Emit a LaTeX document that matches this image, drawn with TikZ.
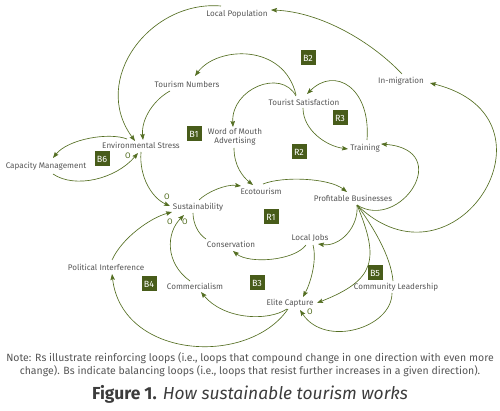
\documentclass[tikz,border=0pt]{standalone}
\usepackage{fontspec}
\setmainfont{Fira Sans}
\usetikzlibrary{arrows.meta}
\definecolor{lineg}{RGB}{84,110,34}
\definecolor{boxg}{RGB}{72,92,26}
\definecolor{txtg}{RGB}{85,85,85}
\definecolor{titleg}{RGB}{60,60,60}
\tikzset{
  lbl/.style={font=\fontsize{8.1}{9}\selectfont, text=txtg, inner sep=1pt},
  loopbox/.style={fill=boxg, text=white, font=\fontsize{9}{9}\selectfont, minimum width=15pt, minimum height=15pt, inner sep=0pt},
  pol/.style={text=lineg, font=\fontsize{8}{8}\selectfont, inner sep=0pt},
  arr/.style={draw=lineg, line width=0.65pt, -{Stealth[length=6pt,width=4.5pt,inset=1pt]}},
  plainline/.style={draw=lineg, line width=0.65pt},
}
\begin{document}
\begin{tikzpicture}[x=1pt,y=-1pt]
\useasboundingbox (0,0) rectangle (500,411);
% variables
\node[lbl] (lp) at (237,14) {Local Population};
\node[lbl] (tn) at (187,84) {Tourism Numbers};
\node[lbl] (ts) at (304,102) {Tourist Satisfaction};
\node[lbl] (im) at (401,81) {In-migration};
\node[lbl, align=center] (wom) at (235,137) {Word of Mouth\\Advertising};
\node[lbl] (es) at (141,145.5) {Environmental Stress};
\node[lbl] (cm) at (46,166) {Capacity Management};
\node[lbl] (tr) at (365,148) {Training};
\node[lbl] (eco) at (261,191) {Ecotourism};
\node[lbl] (pb) at (353,198) {Profitable Businesses};
\node[lbl] (sus) at (198,207) {Sustainability};
\node[lbl] (con) at (231,244) {Conservation};
\node[lbl] (lj) at (310,238) {Local Jobs};
\node[lbl] (pi) at (106,267) {Political Interference};
\node[lbl] (com) at (195,286) {Commercialism};
\node[lbl] (ec) at (290,303) {Elite Capture};
\node[lbl] (cl) at (396,287) {Community Leadership};
% loop labels
\node[loopbox] (b2) at (308,58) {B2};
\node[loopbox] (b1) at (194,134) {B1};
\node[loopbox] (b6) at (102,159) {B6};
\node[loopbox] (r3) at (340,118) {R3};
\node[loopbox] (r2) at (299,152) {R2};
\node[loopbox] (r1) at (271,217) {R1};
\node[loopbox] (b3) at (257,283) {B3};
\node[loopbox] (b4) at (149,284) {B4};
\node[loopbox] (b5) at (375,273) {B5};
% polarity marks
\node[pol] (o1) at (128,155.5) {O};
\node[pol] (o2) at (167,197) {O};
\node[pol] (o3) at (170,222) {O};
\node[pol] (o4) at (185,222) {O};
\node[pol] (o5) at (310,312) {O};
% connectors
\draw[arr] ([shift={(1,-7)}]im.center) .. controls +(-30,-32) and +(50,2) .. ([shift={(34,-4)}]lp.center);
\draw[arr] ([shift={(-16,-8)}]lp.center) .. controls +(-71,-6) and +(-45,-61) .. ([shift={(-6,-4.5)}]es.center);
\draw[arr] ([shift={(-8,-7)}]ts.center) .. controls +(-12,-52) and +(22,-30) .. ([shift={(8,-8)}]tn.center);
\draw[arr] ([shift={(-17,7)}]tn.center) .. controls +(-15,8) and +(-2,-22) .. ([shift={(2,-5.5)}]es.center);
\draw[arr] ([shift={(-8,-6)}]ts.center) .. controls +(-15,-28) and +(-2,-38) .. ([shift={(-2,-10)}]wom.center);
\draw[arr] ([shift={(-1,6)}]ts.center) .. controls +(0,22) and +(-22,-3) .. ([shift={(-17,1)}]tr.center);
\draw[arr] ([shift={(2,-8)}]tr.center) .. controls +(4,-52) and +(28,-28) .. ([shift={(3,-8)}]ts.center);
\draw[arr] ([shift={(-1,11)}]wom.center) .. controls +(0,18) and +(-10,-8) .. ([shift={(-8,-6)}]eco.center);
\draw[arr] ([shift={(0,6.5)}]es.center) .. controls +(-2,25) and +(-18,-8) .. ([shift={(-28,-1)}]sus.center);
\draw[arr] ([shift={(7,8)}]cm.center) .. controls +(22,15) and +(-22,26) .. ([shift={(-3,7.5)}]es.center);
\draw[arr] ([shift={(-14,-6.5)}]es.center) .. controls +(-18,-7) and +(15,-19) .. ([shift={(7,-8)}]cm.center);
\draw[arr] ([shift={(1,-7)}]sus.center) .. controls +(8,-8) and +(-15,-2) .. ([shift={(-20,-5)}]eco.center);
\draw[arr] ([shift={(2,-7)}]eco.center) .. controls +(20,-8) and +(-18,-14) .. ([shift={(-6,-6)}]pb.center);
\draw[arr] ([shift={(4,7)}]pb.center) .. controls +(43,27) and +(74,6) .. ([shift={(16,-4)}]tr.center);
\draw[arr] ([shift={(4,7)}]pb.center) .. controls +(98,95) and +(140,35) .. ([shift={(29,2)}]im.center);
\draw[arr] ([shift={(4,7)}]pb.center) .. controls +(2,22) and +(22,3) .. ([shift={(8,6)}]lj.center);
\draw[arr] ([shift={(4,7)}]pb.center) .. controls +(23,55) and +(58,-23) .. ([shift={(27,0)}]ec.center);
\draw[plainline] ([shift={(4,7)}]pb.center) .. controls +(15,20) and +(-2,-25) .. ([shift={(-3,-6)}]cl.center);
\draw[arr] ([shift={(-4,6)}]cl.center) .. controls +(0,35) and +(25,38) .. ([shift={(10,7)}]ec.center);
\draw[arr] ([shift={(-4,7)}]lj.center) .. controls +(-12,16) and +(16,13) .. ([shift={(2,7)}]con.center);
\draw[plainline] ([shift={(-25,-5)}]con.center) .. controls +(-8,-5) and +(0,10) .. ([shift={(-5,6)}]sus.center);
\draw[arr] ([shift={(3,7)}]lj.center) .. controls +(4,15) and +(8,-15) .. ([shift={(13,-6)}]ec.center);
\draw[arr] ([shift={(-3,6)}]ec.center) .. controls +(-20,13) and +(22,27) .. ([shift={(6,6)}]com.center);
\draw[arr] ([shift={(-5,-5)}]com.center) .. controls +(-25,-18) and +(-18,18) .. ([shift={(-14,8)}]sus.center);
\draw[arr] ([shift={(6,-7)}]pi.center) .. controls +(10,-22) and +(-22,6) .. ([shift={(-26,5)}]sus.center);
\draw[arr] ([shift={(-2,6)}]ec.center) .. controls +(-40,58) and +(10,85) .. ([shift={(6,7)}]pi.center);
% note and title
\node[font=\fontsize{10.5}{13.3}\selectfont, text=txtg, align=center] (note) at (250,365) {Note: Rs illustrate reinforcing loops (i.e., loops that compound change in one direction with even more\\change). Bs indicate balancing loops (i.e., loops that resist further increases in a given direction).};
\node[font=\fontsize{17.4}{19}\selectfont, text=titleg] (title) at (250,394) {\textbf{Figure 1.} \textit{How sustainable tourism works}};
\end{tikzpicture}
\end{document}
